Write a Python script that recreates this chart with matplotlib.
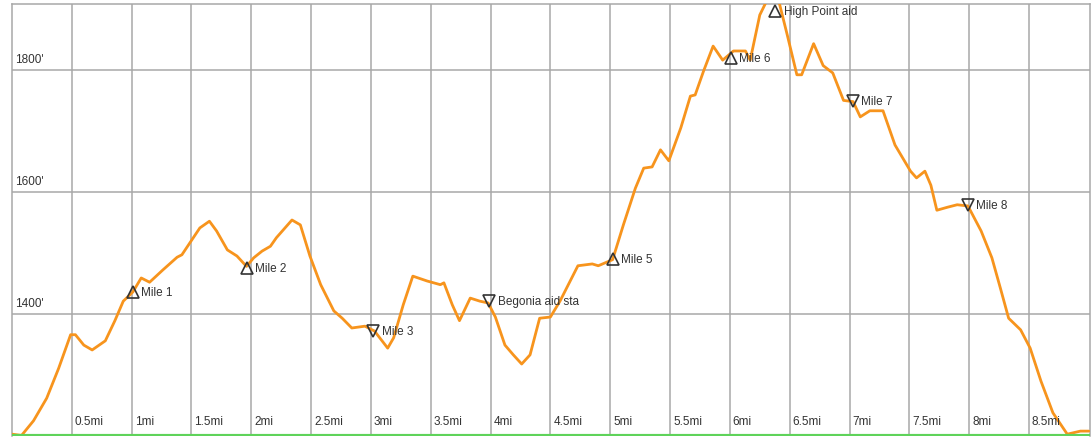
import matplotlib

matplotlib.use("Agg")
import matplotlib.pyplot as plt
from matplotlib.transforms import blended_transform_factory

plt.rcParams["font.family"] = ["Liberation Sans", "DejaVu Sans"]

ORANGE = "#f7941d"
GRID = "#a8a8a8"
INK = "#333333"

# elevation profile (miles, feet)
dist = [0.0, 0.08, 0.18, 0.29, 0.39, 0.49, 0.53, 0.6, 0.67, 0.78, 0.86, 0.93,
        1.01, 1.08, 1.15, 1.26, 1.38, 1.42, 1.57, 1.65, 1.71, 1.8, 1.88,
        1.96, 2.02, 2.09, 2.16, 2.21, 2.34, 2.41, 2.49, 2.58, 2.69, 2.76,
        2.84, 2.95, 3.03, 3.14, 3.19, 3.27, 3.35, 3.47, 3.58, 3.61, 3.68,
        3.74, 3.83, 3.91, 3.98, 4.04, 4.12, 4.19, 4.26, 4.33, 4.41, 4.5,
        4.58, 4.73, 4.85, 4.9, 5.02, 5.11, 5.21, 5.28, 5.35, 5.42, 5.49,
        5.59, 5.67, 5.71, 5.78, 5.86, 5.94, 6.03, 6.13, 6.17, 6.25, 6.31,
        6.41, 6.48, 6.56, 6.6, 6.7, 6.78, 6.86, 6.95, 7.03, 7.09, 7.17,
        7.28, 7.38, 7.51, 7.56, 7.63, 7.68, 7.73, 7.82, 7.9, 7.99, 8.1,
        8.19, 8.26, 8.33, 8.43, 8.51, 8.6, 8.7, 8.82, 8.93, 9.0]
elev = [1203, 1201, 1225, 1262, 1311, 1366, 1366, 1349, 1341, 1356, 1389,
        1421, 1436, 1459, 1452, 1472, 1493, 1497, 1541, 1552, 1536, 1505,
        1495, 1478, 1492, 1503, 1511, 1525, 1554, 1546, 1495, 1448, 1405,
        1393, 1377, 1380, 1372, 1344, 1361, 1415, 1462, 1454, 1448, 1451,
        1415, 1389, 1426, 1421, 1418, 1395, 1349, 1333, 1318, 1333, 1393,
        1395, 1421, 1479, 1482, 1479, 1489, 1546, 1606, 1639, 1641, 1669,
        1651, 1705, 1757, 1759, 1798, 1839, 1816, 1831, 1831, 1816, 1890,
        1914, 1912, 1857, 1792, 1792, 1843, 1807, 1795, 1750, 1748, 1723,
        1733, 1733, 1677, 1634, 1623, 1634, 1611, 1570, 1575, 1579, 1577,
        1536, 1492, 1443, 1393, 1374, 1344, 1290, 1238, 1203, 1208, 1208]

# labelled mile markers
mark_dist = [1.01, 1.96, 3.02, 3.99, 5.02, 6.01, 6.38, 7.03, 7.99]
mark_elev = [1436, 1476, 1372, 1421, 1490, 1820, 1896, 1749, 1578]
mark_name = ["Mile 1", "Mile 2", "Mile 3", "Begonia aid sta", "Mile 5",
             "Mile 6", "High Point aid", "Mile 7", "Mile 8"]
mark_up = [True, True, False, False, True, True, True, False, False]

x_ticks = [0.5, 1, 1.5, 2, 2.5, 3, 3.5, 4, 4.5, 5, 5.5, 6, 6.5, 7, 7.5, 8, 8.5]
x_labels = ["0.5mi", "1mi", "1.5mi", "2mi", "2.5mi", "3mi", "3.5mi", "4mi",
            "4.5mi", "5mi", "5.5mi", "6mi", "6.5mi", "7mi", "7.5mi", "8mi",
            "8.5mi"]
y_ticks = [1400, 1600, 1800]
y_labels = ["1400'", "1600'", "1800'"]

fig = plt.figure(figsize=(10.92, 4.39), dpi=100)
ax = fig.add_axes([12 / 1092, 2 / 439, 1078 / 1092, 432 / 439])
ax.set_xlim(0, 9.01)
ax.set_ylim(1200, 1908)
ax.set_xticks(x_ticks)
ax.set_yticks(y_ticks)
ax.tick_params(length=0, labelbottom=False, labelleft=False)
ax.grid(True, color=GRID, lw=1.1)
for s in ax.spines.values():
    s.set_color(GRID)
    s.set_linewidth(1.1)
ax.spines["bottom"].set_visible(False)

ax.plot(dist, elev, color=ORANGE, lw=2, solid_joinstyle="round",
        solid_capstyle="round", zorder=3)
ax.axhline(1200, color="#5fd35a", lw=3, zorder=4)

for d, e, name, up in zip(mark_dist, mark_elev, mark_name, mark_up):
    ax.plot(d, e, marker="^" if up else "v", ms=9, mfc="none", mec=INK,
            mew=1.2, ls="none", zorder=5)
    ax.text(d + 0.07, e, name, ha="left", va="center", fontsize=8.5,
            color=INK, zorder=6)

tr = blended_transform_factory(ax.transData, ax.transAxes)
for t, lab in zip(x_ticks, x_labels):
    ax.text(t + 0.025, 0.02, lab, transform=tr, ha="left", va="bottom",
            fontsize=8.5, color=INK)
tr = blended_transform_factory(ax.transAxes, ax.transData)
for t, lab in zip(y_ticks, y_labels):
    ax.text(0.003, t + 8, lab, transform=tr, ha="left", va="bottom",
            fontsize=8.5, color=INK)

fig.savefig("out.png", dpi=100)
